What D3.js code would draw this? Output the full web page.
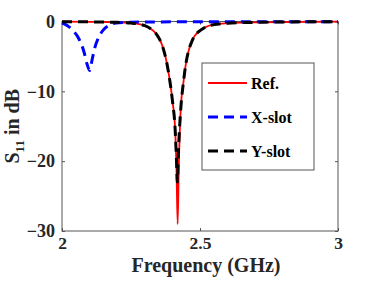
<!DOCTYPE html>
<html>
<head>
<meta charset="utf-8">
<script src="https://d3js.org/d3.v7.min.js"></script>
<style>
  body { margin: 0; background: #fff; }
  svg { display: block; font-family: "Liberation Serif", "Times New Roman", serif; font-weight: bold; }
  .axis path, .axis line { stroke: #555; }
</style>
</head>
<body>
<script>
// frequency (GHz) and S11 (dB)
const refFreq = [2.00, 2.10, 2.20, 2.25, 2.28, 2.30, 2.32, 2.34, 2.35, 2.36, 2.37, 2.38, 2.39, 2.40, 2.41, 2.415, 2.419, 2.423, 2.43, 2.44, 2.45, 2.46, 2.47, 2.48, 2.50, 2.52, 2.55, 2.60, 2.70, 2.80, 3.00]
const refS11  = [-0.02, -0.05, -0.12, -0.22, -0.38, -0.6, -1.0, -1.7, -2.3, -3.1, -4.3, -6.0, -8.3, -11.3, -15.5, -21.5, -29.0, -21.0, -12.7, -8.7, -5.8, -4.0, -2.9, -2.1, -1.3, -0.8, -0.45, -0.25, -0.12, -0.07, -0.03]

const xFreq = [2.00, 2.02, 2.04, 2.06, 2.08, 2.09, 2.10, 2.11, 2.12, 2.13, 2.15, 2.17, 2.19, 2.25, 2.40, 3.00]
const xS11  = [-0.2, -0.6, -1.3, -2.4, -4.4, -6.0, -7.0, -5.3, -3.6, -2.5, -1.2, -0.55, -0.25, -0.1, -0.05, -0.02]

const yFreq = [2.00, 2.10, 2.20, 2.25, 2.28, 2.30, 2.32, 2.34, 2.35, 2.36, 2.37, 2.38, 2.39, 2.40, 2.41, 2.415, 2.418, 2.422, 2.43, 2.44, 2.45, 2.46, 2.47, 2.48, 2.50, 2.52, 2.55, 2.60, 2.70, 2.80, 3.00]
const yS11  = [-0.02, -0.05, -0.12, -0.22, -0.38, -0.6, -1.0, -1.7, -2.3, -3.1, -4.3, -6.0, -8.3, -11.3, -15.5, -20.0, -23.0, -18.5, -12.7, -8.7, -5.8, -4.0, -2.9, -2.1, -1.3, -0.8, -0.45, -0.25, -0.12, -0.07, -0.03]

const xTicks = [2, 2.5, 3]
const yTicks = [0, -10, -20, -30]
const seriesNames = ["Ref.", "X-slot", "Y-slot"]

var W = 374, H = 281
var m = {left: 62, top: 21.5, right: 36, bottom: 50}
var w = W - m.left - m.right
var h = H - m.top - m.bottom

var svg = d3.select("body").append("svg")
  .attr("width", W).attr("height", H)

var g = svg.append("g").attr("transform", `translate(${m.left},${m.top})`)

var x = d3.scaleLinear().domain([2, 3]).range([0, w])
var y = d3.scaleLinear().domain([-30, 0]).range([h, 0])

// box
g.append("rect").attr("width", w).attr("height", h)
  .attr("fill", "#fff").attr("stroke", "#555").attr("stroke-width", 1)

// axes with inward ticks
var xAx = g.append("g").attr("class", "axis").attr("transform", `translate(0,${h})`)
  .call(d3.axisBottom(x).tickValues(xTicks).tickSizeInner(-3).tickSizeOuter(0).tickPadding(6).tickFormat(d3.format("")))
g.append("g").attr("class", "axis")
  .call(d3.axisTop(x).tickValues(xTicks).tickSizeInner(-3).tickSizeOuter(0).tickFormat(""))
g.append("g").attr("class", "axis")
  .call(d3.axisLeft(y).tickValues(yTicks).tickSizeInner(-3).tickSizeOuter(0).tickPadding(7).tickFormat(d3.format("")))
g.append("g").attr("class", "axis").attr("transform", `translate(${w},0)`)
  .call(d3.axisRight(y).tickValues(yTicks).tickSizeInner(-3).tickSizeOuter(0).tickFormat(""))

g.selectAll(".axis text").attr("font-size", 18).attr("font-family", "Liberation Serif").attr("font-weight", "bold").attr("fill", "#262626")
xAx.selectAll("text").attr("font-size", 17.5)
g.selectAll(".axis .domain").remove()

var line = d3.line().x(d => x(d[0])).y(d => y(d[1])).curve(d3.curveMonotoneX)

var series = [
  {name: seriesNames[0], data: d3.zip(refFreq, refS11), color: "#ff0000", width: 1.8, dash: null},
  {name: seriesNames[1], data: d3.zip(xFreq, xS11), color: "#0000ff", width: 3, dash: "10,6"},
  {name: seriesNames[2], data: d3.zip(yFreq, yS11), color: "#000000", width: 3, dash: "10,6"}
]

g.selectAll(".series").data(series).enter().append("path")
  .attr("class", "series")
  .attr("d", d => line(d.data))
  .attr("fill", "none")
  .attr("stroke", d => d.color)
  .attr("stroke-width", d => d.width)
  .attr("stroke-dasharray", d => d.dash)

// legend
var lg = svg.append("g").attr("transform", "translate(202,63)")
lg.append("rect").attr("width", 112).attr("height", 107)
  .attr("fill", "#fff").attr("stroke", "#555").attr("stroke-width", 1)
var item = lg.selectAll(".item").data(series).enter().append("g")
  .attr("transform", (d, i) => `translate(0,${20 + i * 34})`)
item.append("line").attr("x1", 6).attr("x2", 45)
  .attr("stroke", d => d.color).attr("stroke-width", d => d.width)
  .attr("stroke-dasharray", d => d.dash)
item.append("text").attr("x", 49).attr("dy", "0.35em")
  .attr("font-size", 16).attr("fill", "#000").text(d => d.name)

// axis labels
svg.append("text").attr("x", m.left + w / 2 + 6).attr("y", 272)
  .attr("text-anchor", "middle").attr("font-size", 20).attr("fill", "#262626")
  .text("Frequency (GHz)")

var yl = svg.append("text").attr("transform", `translate(19,${m.top + h / 2}) rotate(-90)`)
  .attr("text-anchor", "middle").attr("font-size", 20).attr("fill", "#262626")
yl.append("tspan").text("S")
yl.append("tspan").attr("font-size", 13).attr("dy", 5).text("11")
yl.append("tspan").attr("dy", -5).text(" in dB")
</script>
</body>
</html>
